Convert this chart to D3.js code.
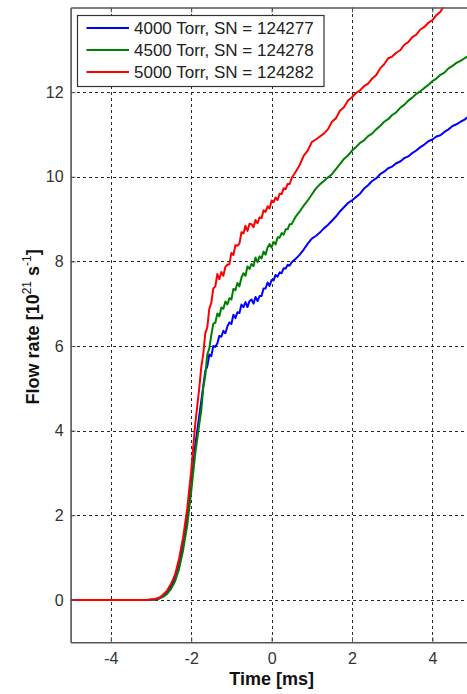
<!DOCTYPE html>
<html>
<head>
<meta charset="utf-8">
<script src="https://cdn.jsdelivr.net/npm/d3@7"></script>
<style>
  html, body { margin: 0; padding: 0; background: #fff; }
  svg { display: block; font-family: "Liberation Sans", Arial, sans-serif; }
</style>
</head>
<body>
<svg id="chart" width="467" height="694"></svg>
<script>
// Time axis of the measurement [ms]
const time = [-5.0, -4.5, -4.0, -3.5, -3.1, -2.9, -2.8, -2.7, -2.6, -2.5, -2.4, -2.3, -2.2, -2.1, -2.0, -1.9, -1.8,
  -1.75, -1.7, -1.65, -1.6, -1.55, -1.5, -1.45, -1.4, -1.35, -1.3, -1.25, -1.2, -1.15, -1.1, -1.05, -1.0,
  -0.95, -0.9, -0.85, -0.8, -0.75, -0.7, -0.65, -0.6, -0.55, -0.5, -0.45, -0.4, -0.35, -0.3, -0.25, -0.2,
  -0.15, -0.1, -0.05, 0.0, 0.05, 0.1, 0.15, 0.2, 0.25, 0.3, 0.35, 0.4, 0.45, 0.5,
  0.6, 0.7, 0.8, 0.9, 1.0, 1.1, 1.2, 1.3, 1.4, 1.5, 1.6, 1.7, 1.8, 1.9, 2.0, 2.1, 2.2, 2.3, 2.4, 2.5,
  2.6, 2.7, 2.8, 2.9, 3.0, 3.1, 3.2, 3.3, 3.4, 3.5, 3.6, 3.7, 3.8, 3.9, 4.0, 4.1, 4.2, 4.3, 4.4, 4.5,
  4.6, 4.7, 4.8, 4.9];

// Flow rate [10^21 s^-1] for each reservoir pressure
const flow4000 = [0, 0, 0, 0, 0, 0.01, 0.03, 0.09, 0.18, 0.32, 0.52, 0.86, 1.32, 1.92, 2.7, 3.65, 4.35,
  4.7, 5.05, 5.4, 5.52, 5.8, 5.76, 6.0, 5.98, 6.06, 6.24, 6.22, 6.36, 6.3, 6.46, 6.56, 6.52,
  6.74, 6.66, 6.8, 6.78, 6.98, 6.92, 7.04, 6.92, 7.06, 7.1, 7.0, 7.16, 7.06, 7.18, 7.18, 7.36,
  7.36, 7.5, 7.42, 7.56, 7.55, 7.68, 7.64, 7.74, 7.72, 7.84, 7.83, 7.92, 7.9, 7.98,
  8.06, 8.16, 8.28, 8.42, 8.54, 8.6, 8.68, 8.78, 8.86, 8.96, 9.06, 9.18, 9.28, 9.38, 9.44, 9.52, 9.6, 9.72, 9.8, 9.9,
  9.96, 10.06, 10.12, 10.2, 10.24, 10.32, 10.36, 10.44, 10.48, 10.56, 10.62, 10.7, 10.76, 10.84, 10.88, 10.95, 10.98, 11.06, 11.12, 11.2,
  11.24, 11.3, 11.35, 11.42];

const flow4500 = [0, 0, 0, 0, 0, 0.01, 0.03, 0.07, 0.14, 0.26, 0.44, 0.74, 1.18, 1.75, 2.55, 3.45, 4.15,
  4.47, 5.01, 5.3, 5.8, 5.94, 6.26, 6.53, 6.55, 6.77, 6.7, 6.91, 6.88, 7.05, 6.98, 7.13, 7.1,
  7.35, 7.32, 7.49, 7.41, 7.62, 7.72, 7.66, 7.88, 7.82, 7.94, 7.89, 8.09, 7.98, 8.12, 8.07, 8.23,
  8.16, 8.33, 8.41, 8.33, 8.46, 8.4, 8.57, 8.56, 8.67, 8.63, 8.76, 8.76, 8.88, 8.88,
  9.06, 9.18, 9.32, 9.44, 9.58, 9.72, 9.82, 9.9, 9.98, 10.06, 10.18, 10.3, 10.42, 10.5, 10.62, 10.7, 10.8, 10.86, 10.96, 11.02,
  11.12, 11.2, 11.3, 11.36, 11.46, 11.52, 11.63, 11.7, 11.8, 11.87, 11.96, 12.02, 12.1, 12.17, 12.26, 12.32, 12.41, 12.46, 12.56, 12.62,
  12.69, 12.74, 12.8, 12.86];

const flow5000 = [0, 0, 0, 0, 0, 0.02, 0.05, 0.12, 0.22, 0.38, 0.6, 0.98, 1.48, 2.15, 3.05, 4.15, 5.0,
  5.5, 5.81, 6.3, 6.44, 6.88, 7.02, 7.36, 7.41, 7.7, 7.58, 7.75, 7.66, 7.87, 7.92, 7.93, 8.2,
  8.15, 8.38, 8.37, 8.42, 8.69, 8.66, 8.84, 8.72, 8.89, 8.88, 8.81, 8.98, 8.9, 9.04, 9.02, 9.21,
  9.17, 9.3, 9.25, 9.44, 9.4, 9.51, 9.45, 9.6, 9.59, 9.73, 9.71, 9.83, 9.83, 9.97,
  10.12, 10.28, 10.5, 10.62, 10.82, 10.88, 10.95, 11.02, 11.12, 11.3, 11.38, 11.56, 11.64, 11.8, 11.88, 11.98, 12.04, 12.14, 12.2, 12.32,
  12.4, 12.56, 12.66, 12.8, 12.84, 12.93, 12.99, 13.12, 13.18, 13.3, 13.36, 13.48, 13.54, 13.64, 13.7, 13.82, 13.9, 14.06, 14.16, 14.3,
  14.42, 14.56, 14.66, 14.8];

const seriesLabels = ["4000 Torr, SN = 124277", "4500 Torr, SN = 124278", "5000 Torr, SN = 124282"];
const seriesColors = ["#0000ff", "#008000", "#ff0000"];
const seriesValues = [flow4000, flow4500, flow5000];

const xTicks = [-4, -2, 0, 2, 4];
const yTicks = [0, 2, 4, 6, 8, 10, 12];
const xDomain = [-5, 5];
const yDomain = [-1, 14];

const svg = d3.select("#chart");
const plotLeft = 70.6, plotRight = 472.6, plotTop = 7.5, plotBottom = 642.2;

const x = d3.scaleLinear().domain(xDomain).range([plotLeft, plotRight]);
const y = d3.scaleLinear().domain(yDomain).range([plotBottom, plotTop]);

svg.append("defs").append("clipPath").attr("id", "plotClip")
  .append("rect").attr("x", plotLeft).attr("y", plotTop)
  .attr("width", plotRight - plotLeft).attr("height", plotBottom - plotTop);

// Dashed grid
const grid = svg.append("g").attr("stroke", "#2a2a2a").attr("stroke-width", 1)
  .attr("stroke-dasharray", "3,3").attr("shape-rendering", "crispEdges");
grid.selectAll(".vg").data(xTicks).join("line")
  .attr("x1", d => Math.round(x(d)) + 0.5).attr("x2", d => Math.round(x(d)) + 0.5)
  .attr("y1", plotTop).attr("y2", plotBottom);
grid.selectAll(".hg").data(yTicks).join("line")
  .attr("y1", d => Math.round(y(d)) + 0.5).attr("y2", d => Math.round(y(d)) + 0.5)
  .attr("x1", plotLeft).attr("x2", plotRight);

// Flow curves
const line = d3.line().x((d, i) => x(time[i])).y(d => y(d));
const curves = svg.append("g").attr("clip-path", "url(#plotClip)");
seriesValues.forEach((vals, k) => {
  curves.append("path")
    .attr("d", line(vals))
    .attr("fill", "none")
    .attr("stroke", seriesColors[k])
    .attr("stroke-width", 2)
    .attr("stroke-linejoin", "round");
});

// Axes with inward ticks
const axisColor = "#555";
const xAxisB = svg.append("g").attr("transform", `translate(0,${plotBottom})`)
  .call(d3.axisBottom(x).tickValues(xTicks).tickSizeInner(-5).tickSizeOuter(0).tickPadding(10)
    .tickFormat(d => d < 0 ? "-" + Math.abs(d) : String(d)));
const xAxisT = svg.append("g").attr("transform", `translate(0,${plotTop})`)
  .call(d3.axisTop(x).tickValues(xTicks).tickSizeInner(-5).tickSizeOuter(0).tickFormat(""));
const yAxisL = svg.append("g").attr("transform", `translate(${plotLeft},0)`)
  .call(d3.axisLeft(y).tickValues(yTicks).tickSizeInner(-5).tickSizeOuter(0).tickPadding(7));

[xAxisB, xAxisT, yAxisL].forEach(a => {
  a.select(".domain").attr("stroke", axisColor).attr("stroke-width", 1.6);
  a.selectAll(".tick line").attr("stroke", axisColor).attr("stroke-width", 1);
  a.selectAll(".tick text").attr("fill", "#333").style("font-size", "16px")
    .style("font-family", '"Liberation Sans", Arial, sans-serif');
});

// Axis labels
svg.append("text")
  .attr("x", (plotLeft + plotRight) / 2).attr("y", 685)
  .attr("text-anchor", "middle")
  .style("font-size", "18px").style("font-weight", "bold").attr("fill", "#111")
  .text("Time [ms]");

const yl = svg.append("text")
  .attr("transform", `translate(39,${(plotTop + plotBottom) / 2 + 2}) rotate(-90)`)
  .attr("text-anchor", "middle")
  .style("font-size", "18px").style("font-weight", "bold").attr("fill", "#111");
yl.append("tspan").text("Flow rate [10");
yl.append("tspan").attr("dy", -8).style("font-size", "12px").style("font-weight", "normal").text("21");
yl.append("tspan").attr("dy", 8).text(" s");
yl.append("tspan").attr("dy", -8).style("font-size", "12px").style("font-weight", "normal").text("-1");
yl.append("tspan").attr("dy", 8).text("]");

// Legend
const lg = svg.append("g");
lg.append("rect").attr("x", 77.5).attr("y", 15.5).attr("width", 246.5).attr("height", 71)
  .attr("fill", "#fff").attr("stroke", "#333").attr("stroke-width", 1.2);
const rowY = [28, 50, 72];
seriesLabels.forEach((lab, k) => {
  lg.append("line").attr("x1", 86.5).attr("x2", 129).attr("y1", rowY[k]).attr("y2", rowY[k])
    .attr("stroke", seriesColors[k]).attr("stroke-width", 2);
  lg.append("text").attr("x", 134).attr("y", rowY[k]).attr("dy", "0.35em")
    .style("font-size", "17px").attr("fill", "#222").text(lab);
});
</script>
</body>
</html>
